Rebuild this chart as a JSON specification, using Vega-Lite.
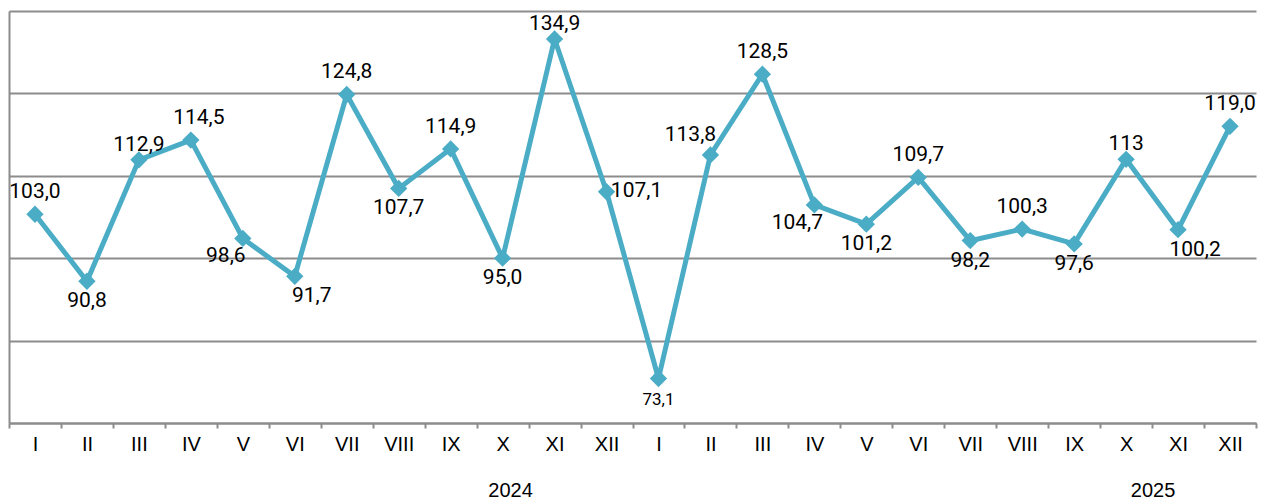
{
  "$schema": "https://vega.github.io/schema/vega-lite/v6.json",
  "autosize": "none",
  "width": 1247,
  "height": 412,
  "padding": {"left": 9, "top": 11, "right": 5, "bottom": 79},
  "background": "white",
  "config": {"view": {"stroke": null}},
  "data": {"values": [
    {"k": "I 2024", "v": 103.0, "lbl": "103,0"},
    {"k": "II 2024", "v": 90.8, "lbl": "90,8"},
    {"k": "III 2024", "v": 112.9, "lbl": "112,9"},
    {"k": "IV 2024", "v": 116.5, "lbl": "114,5"},
    {"k": "V 2024", "v": 98.6, "lbl": "98,6"},
    {"k": "VI 2024", "v": 91.7, "lbl": "91,7"},
    {"k": "VII 2024", "v": 124.8, "lbl": "124,8"},
    {"k": "VIII 2024", "v": 107.7, "lbl": "107,7"},
    {"k": "IX 2024", "v": 114.9, "lbl": "114,9"},
    {"k": "X 2024", "v": 95.0, "lbl": "95,0"},
    {"k": "XI 2024", "v": 134.9, "lbl": "134,9"},
    {"k": "XII 2024", "v": 107.1, "lbl": "107,1"},
    {"k": "I 2025", "v": 73.1, "lbl": "73,1"},
    {"k": "II 2025", "v": 113.8, "lbl": "113,8"},
    {"k": "III 2025", "v": 128.5, "lbl": "128,5"},
    {"k": "IV 2025", "v": 104.7, "lbl": "104,7"},
    {"k": "V 2025", "v": 101.2, "lbl": "101,2"},
    {"k": "VI 2025", "v": 109.7, "lbl": "109,7"},
    {"k": "VII 2025", "v": 98.2, "lbl": "98,2"},
    {"k": "VIII 2025", "v": 100.3, "lbl": "100,3"},
    {"k": "IX 2025", "v": 97.6, "lbl": "97,6"},
    {"k": "X 2025", "v": 113.0, "lbl": "113"},
    {"k": "XI 2025", "v": 100.2, "lbl": "100,2"},
    {"k": "XII 2025", "v": 119.0, "lbl": "119,0"}
  ]},
  "encoding": {
    "x": {
      "field": "k", "type": "nominal", "sort": null,
      "scale": {"type": "band", "paddingInner": 0, "paddingOuter": 0},
      "axis": {
        "title": null, "labelAngle": 0, "grid": false, "tickBand": "extent",
        "domainColor": "#8c8c8c", "domainWidth": 2, "tickColor": "#8c8c8c", "tickWidth": 2, "tickSize": 5,
        "labelFont": "Liberation Sans", "labelFontSize": 20, "labelColor": "#000000", "labelPadding": 6,
        "labelExpr": "split(datum.label, ' ')[0]"
      }
    },
    "y": {
      "field": "v", "type": "quantitative",
      "scale": {"domain": [65, 140], "nice": false, "zero": false},
      "axis": {
        "title": null, "labels": false, "ticks": false, "values": [65, 80, 95, 110, 125, 140],
        "grid": true, "gridColor": "#8c8c8c", "gridWidth": 2, "gridOpacity": 1,
        "domain": true, "domainColor": "#8c8c8c", "domainWidth": 2
      }
    }
  },
  "layer": [
    {"mark": {"type": "line", "color": "#4BACC6", "strokeWidth": 5}},
    {"mark": {"type": "point", "shape": "diamond", "filled": true, "opacity": 1, "color": "#4BACC6", "size": 300}},
    {
      "transform": [{"filter": {"field": "k", "oneOf": ["I 2024", "VII 2024", "IX 2024", "III 2025", "VI 2025", "VIII 2025", "XII 2025"]}}],
      "mark": {"type": "text", "font": "Roboto", "fontSize": 21, "color": "#000000", "baseline": "middle", "dy": -22},
      "encoding": {"text": {"field": "lbl"}}
    },
    {
      "transform": [{"filter": {"field": "k", "oneOf": ["IV 2024"]}}],
      "mark": {"type": "text", "font": "Roboto", "fontSize": 21, "color": "#000000", "baseline": "middle", "dy": -22, "dx": 8},
      "encoding": {"text": {"field": "lbl"}}
    },
    {
      "transform": [{"filter": {"field": "k", "oneOf": ["II 2025"]}}],
      "mark": {"type": "text", "font": "Roboto", "fontSize": 21, "color": "#000000", "baseline": "middle", "dy": -20, "dx": -20},
      "encoding": {"text": {"field": "lbl"}}
    },
    {
      "transform": [{"filter": {"field": "k", "oneOf": ["III 2024", "XI 2024", "X 2025"]}}],
      "mark": {"type": "text", "font": "Roboto", "fontSize": 21, "color": "#000000", "baseline": "middle", "dy": -15},
      "encoding": {"text": {"field": "lbl"}}
    },
    {
      "transform": [{"filter": {"field": "k", "oneOf": ["II 2024", "VIII 2024", "X 2024", "V 2025", "VII 2025", "IX 2025"]}}],
      "mark": {"type": "text", "font": "Roboto", "fontSize": 21, "color": "#000000", "baseline": "middle", "dy": 20},
      "encoding": {"text": {"field": "lbl"}}
    },
    {
      "transform": [{"filter": {"field": "k", "oneOf": ["I 2025"]}}],
      "mark": {"type": "text", "font": "Roboto", "fontSize": 17, "color": "#000000", "baseline": "middle", "dy": 21},
      "encoding": {"text": {"field": "lbl"}}
    },
    {
      "transform": [{"filter": {"field": "k", "oneOf": ["V 2024", "IV 2025"]}}],
      "mark": {"type": "text", "font": "Roboto", "fontSize": 21, "color": "#000000", "baseline": "middle", "dy": 18, "dx": -17},
      "encoding": {"text": {"field": "lbl"}}
    },
    {
      "transform": [{"filter": {"field": "k", "oneOf": ["VI 2024", "XI 2025"]}}],
      "mark": {"type": "text", "font": "Roboto", "fontSize": 21, "color": "#000000", "baseline": "middle", "dy": 20, "dx": 17},
      "encoding": {"text": {"field": "lbl"}}
    },
    {
      "transform": [{"filter": {"field": "k", "oneOf": ["XII 2024"]}}],
      "mark": {"type": "text", "font": "Roboto", "fontSize": 21, "color": "#000000", "baseline": "middle", "dy": -1, "dx": 30},
      "encoding": {"text": {"field": "lbl"}}
    },
    {
      "data": {"values": [{"k": "X 2024", "v": 52.6, "yr": "2024"}]},
      "mark": {"type": "text", "font": "Liberation Sans", "fontSize": 20, "color": "#000000", "baseline": "middle", "dx": 8},
      "encoding": {"text": {"field": "yr"}}
    },
    {
      "data": {"values": [{"k": "X 2025", "v": 52.6, "yr": "2025"}]},
      "mark": {"type": "text", "font": "Liberation Sans", "fontSize": 20, "color": "#000000", "baseline": "middle", "dx": 27},
      "encoding": {"text": {"field": "yr"}}
    }
  ]
}
